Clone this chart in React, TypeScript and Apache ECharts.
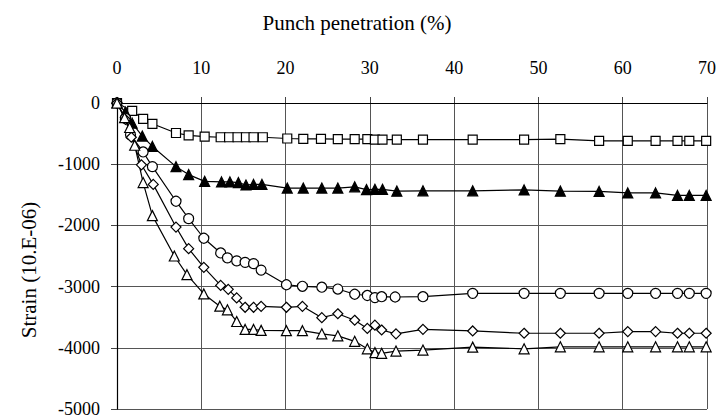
import React, { useEffect, useRef } from "react";
import * as echarts from "echarts";

const xTicks = [0, 10, 20, 30, 40, 50, 60, 70];
const yTicks = [0, -1000, -2000, -3000, -4000, -5000];

const squareX = [0, 1.8, 3.1, 4.2, 7.0, 8.5, 10.4, 12.3, 13.3, 14.3, 15.3, 16.2, 17.3, 20.2, 22.1, 24.2, 26.2, 28.2, 29.7, 30.6, 31.5, 33.2, 36.3, 42.2, 48.3, 52.6, 57.2, 60.6, 63.9, 66.5, 67.9, 69.9];
const squareY = [0, -130, -260, -340, -490, -530, -550, -560, -560, -560, -560, -560, -560, -580, -585, -585, -590, -590, -590, -600, -600, -600, -600, -600, -600, -590, -620, -620, -620, -620, -620, -620];

const filledTriX = [0, 1.0, 1.8, 3.0, 4.2, 7.0, 8.5, 10.4, 12.4, 13.4, 14.4, 15.3, 16.2, 17.2, 20.2, 22.1, 24.3, 26.2, 28.2, 29.6, 30.6, 31.5, 33.2, 36.3, 42.2, 48.3, 52.6, 57.2, 60.6, 63.9, 66.5, 67.9, 69.9];
const filledTriY = [0, -150, -330, -540, -710, -1040, -1170, -1280, -1290, -1290, -1300, -1340, -1330, -1330, -1390, -1390, -1390, -1390, -1370, -1415, -1410, -1410, -1440, -1435, -1435, -1420, -1440, -1445, -1470, -1470, -1510, -1510, -1510];

const circleX = [0, 1.0, 1.6, 3.1, 4.2, 7.0, 8.5, 10.3, 12.3, 13.1, 14.2, 15.2, 16.2, 17.1, 20.1, 22.0, 24.3, 26.2, 28.2, 29.7, 30.6, 31.4, 33.0, 36.3, 42.2, 48.3, 52.6, 57.2, 60.6, 63.9, 66.5, 67.9, 69.9];
const circleY = [0, -250, -520, -800, -1040, -1605, -1890, -2210, -2450, -2530, -2580, -2605, -2625, -2730, -2970, -2995, -3010, -3040, -3125, -3145, -3180, -3165, -3170, -3165, -3110, -3110, -3110, -3110, -3110, -3110, -3110, -3110, -3110];

const diamondX = [0, 1.0, 1.7, 2.9, 4.3, 7.0, 8.5, 10.3, 12.3, 13.2, 14.2, 15.2, 16.2, 17.1, 20.1, 22.0, 24.3, 26.2, 28.2, 29.7, 30.6, 31.4, 33.1, 36.3, 42.2, 48.3, 52.6, 57.2, 60.6, 63.9, 66.5, 67.9, 69.9];
const diamondY = [0, -270, -560, -1010, -1330, -2027, -2380, -2685, -2980, -3045, -3185, -3338, -3338, -3322, -3338, -3322, -3508, -3444, -3550, -3683, -3630, -3709, -3772, -3698, -3725, -3762, -3762, -3762, -3735, -3735, -3762, -3762, -3762];

const openTriX = [0, 0.9, 1.5, 2.1, 3.1, 4.2, 6.8, 8.3, 10.3, 12.2, 13.1, 14.2, 15.2, 16.2, 17.1, 20.1, 22.0, 24.3, 26.2, 28.2, 29.7, 30.6, 31.4, 33.1, 36.3, 42.2, 48.3, 52.6, 57.2, 60.6, 63.9, 66.5, 67.9, 69.9];
const openTriY = [0, -240, -400, -690, -1300, -1840, -2500, -2805, -3120, -3320, -3380, -3570, -3700, -3700, -3715, -3720, -3720, -3772, -3804, -3894, -4016, -4079, -4090, -4053, -4037, -3989, -4016, -3984, -3984, -3984, -3984, -3984, -3984, -3984];

const xTitle = "Punch penetration (%)";
const yTitle = "Strain (10.E-06)";

const FONT = "Liberation Serif";

function zip(xs: number[], ys: number[]) {
  return xs.map((x, i) => [x, ys[i]]);
}

function makeSeries(name: string, xs: number[], ys: number[], symbol: string, size: number, filled: boolean) {
  return {
    name,
    type: "line",
    data: zip(xs, ys),
    symbol,
    symbolSize: size,
    showAllSymbol: true,
    lineStyle: { color: "#000", width: 1.2 },
    itemStyle: { color: filled ? "#000" : "#fff", borderColor: "#000", borderWidth: 1.2 },
    z: 3,
  };
}

export default function App() {
  const ref = useRef<HTMLDivElement>(null);
  useEffect(() => {
    if (!ref.current) return;
    const chart = echarts.init(ref.current, null, { renderer: "svg" });
    chart.setOption({
      animation: false,
      backgroundColor: "#fff",
      textStyle: { fontFamily: FONT },
      graphic: [
        {
          type: "text",
          x: 357,
          y: 23,
          style: {
            text: xTitle,
            fontFamily: FONT,
            fontSize: 21,
            fill: "#000",
            align: "center",
            verticalAlign: "middle",
          },
        },
        {
          type: "text",
          x: 29,
          y: 270,
          rotation: Math.PI / 2,
          style: {
            text: yTitle,
            fontFamily: FONT,
            fontSize: 21,
            fill: "#000",
            align: "center",
            verticalAlign: "middle",
          },
        },
      ],
      grid: { left: 117, right: 16, top: 103, bottom: 1 },
      xAxis: {
        type: "value",
        position: "top",
        min: xTicks[0],
        max: xTicks[xTicks.length - 1],
        interval: 10,
        axisLine: { show: true, onZero: false, lineStyle: { color: "#000", width: 1.2 } },
        axisTick: { show: true, length: 6, lineStyle: { color: "#444" } },
        axisLabel: { margin: 26, fontFamily: FONT, fontSize: 18, color: "#000", formatter: (v: number) => String(v) },
        splitLine: { show: true, lineStyle: { color: "#555", width: 1 } },
      },
      yAxis: {
        type: "value",
        min: yTicks[yTicks.length - 1],
        max: yTicks[0],
        interval: 1000,
        axisLine: { show: true, onZero: false, lineStyle: { color: "#000", width: 1.2 } },
        axisTick: { show: true, length: 6, lineStyle: { color: "#444" } },
        axisLabel: { margin: 17, fontFamily: FONT, fontSize: 18, color: "#000", formatter: (v: number) => String(v) },
        splitLine: { show: true, lineStyle: { color: "#555", width: 1 } },
      },
      series: [
        makeSeries("Square", squareX, squareY, "rect", 9, false),
        makeSeries("Filled triangle", filledTriX, filledTriY, "triangle", 10, true),
        makeSeries("Circle", circleX, circleY, "circle", 10, false),
        makeSeries("Diamond", diamondX, diamondY, "diamond", 10, false),
        makeSeries("Open triangle", openTriX, openTriY, "triangle", 10, false),
      ],
    });
    return () => chart.dispose();
  }, []);
  return (
    <div
      ref={ref}
      style={{ position: "fixed", left: 0, top: 0, width: 723, height: 418, background: "#fff" }}
    />
  );
}
